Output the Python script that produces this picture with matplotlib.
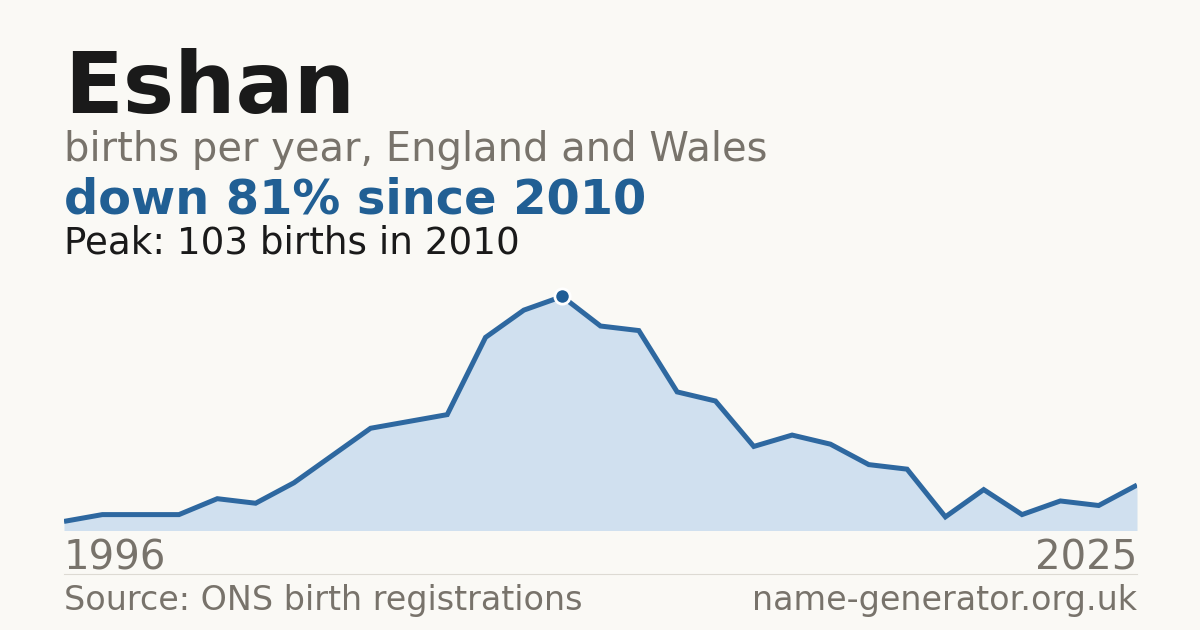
import numpy as np
import matplotlib.pyplot as plt

plt.rcParams['font.family'] = ['DejaVu Sans']

# births per year (one year missing from the series, so points are spaced by index)
years = [1996, 1998, 1999, 2000, 2001, 2002, 2003, 2004, 2005, 2006, 2007, 2008, 2009, 2010,
         2011, 2012, 2013, 2014, 2015, 2016, 2017, 2018, 2019, 2020, 2021, 2022, 2023, 2024, 2025]
births = [4, 7, 7, 7, 14, 12, 21, 33, 45, 48, 51, 85, 97, 103,
          90, 88, 61, 57, 37, 42, 38, 29, 27, 6, 18, 7, 13, 11, 20]

name = "Eshan"
subtitle = "births per year, England and Wales"
source = "Source: ONS birth registrations"
site = "name-generator.org.uk"

bg = '#faf9f5'
blue = '#2e68a0'
fill = '#d0e0ef'
grey = '#78736b'
dark = '#1a1a1a'

W, H = 1200, 630
fig = plt.figure(figsize=(W / 100, H / 100), dpi=100, facecolor=bg)

peak_i = int(np.argmax(births))
peak_val = births[peak_i]
peak_year = years[peak_i]
change = round((births[-1] - peak_val) / peak_val * 100)

# chart area in pixels
left, right = 64, 1137
y0 = 530.5           # value 0
px_per = 2.272       # pixels per birth
ymax = 110
top = y0 - ymax * px_per
ax = fig.add_axes([left / W, (H - y0) / H, (right - left) / W, (y0 - top) / H])
ax.set_facecolor(bg)
x = np.arange(len(births))
ax.fill_between(x, births, 0, color=fill, lw=0)
ax.plot(x, births, color=blue, lw=3.6, solid_joinstyle='miter', solid_capstyle='butt')
ax.plot(x[peak_i], peak_val, 'o', ms=11, color='#1f5d96', mec='white', mew=2, zorder=5)
ax.set_xlim(0, len(births) - 1)
ax.set_ylim(0, ymax)
ax.axis('off')


def fy(py):
    return (H - py) / H


fig.text(left / W, fy(113), name, fontsize=62, fontweight='bold', color=dark, va='baseline')
fig.text(left / W, fy(161), subtitle, fontsize=28.8, color=grey, va='baseline')
fig.text(left / W, fy(214), f"{'down' if change < 0 else 'up'} {abs(change)}% since {peak_year}",
         fontsize=34.5, fontweight='bold', color='#215f94', va='baseline')
fig.text(left / W, fy(254), f"Peak: {peak_val} births in {peak_year}", fontsize=26.8, color=dark,
         va='baseline')

fig.text(left / W, fy(570), str(years[0]), fontsize=29, color=grey, va='baseline')
fig.text(right / W, fy(570), str(years[-1]), fontsize=29, color=grey, va='baseline', ha='right')
fig.add_artist(plt.Line2D([left / W, right / W], [fy(574), fy(574)], color='#dddad3', lw=0.8))
fig.text(left / W, fy(610), source, fontsize=24, color=grey, va='baseline')
fig.text(right / W, fy(610), site, fontsize=24, color=grey, va='baseline', ha='right')

fig.savefig('out.png', dpi=100, facecolor=bg)
